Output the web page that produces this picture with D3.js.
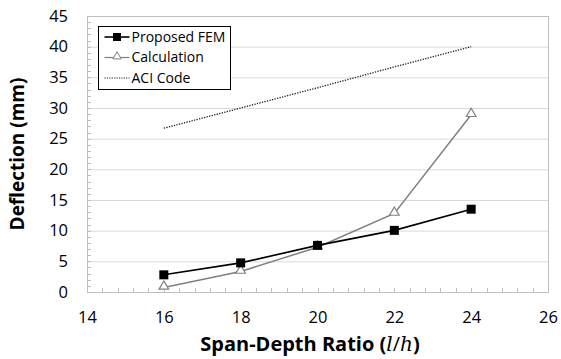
<!DOCTYPE html>
<html>
<head>
<meta charset="utf-8">
<script src="https://cdn.jsdelivr.net/npm/d3@7"></script>
<style>
  body { margin: 0; background: #fff; }
  svg { display: block; font-family: "Open Sans", "Noto Sans", sans-serif; }
</style>
</head>
<body>
<svg></svg>
<script>
// data
var ratios = [16, 18, 20, 22, 24];
var femValues = [2.8, 4.75, 7.6, 10.05, 13.5];
var calcValues = [0.75, 3.35, 7.3, 12.8, 28.9];
var aciValues = [26.7, 30.0, 33.3, 36.7, 40.0];
var xTicks = [14, 16, 18, 20, 22, 24, 26];
var yTicks = [0, 5, 10, 15, 20, 25, 30, 35, 40, 45];
var seriesNames = ['Proposed FEM', 'Calculation', 'ACI Code'];

var canvasWidth = 561;
var canvasHeight = 359;
var margin = { top: 16, right: 13, bottom: 67, left: 87 };
var width = canvasWidth - margin.left - margin.right;
var height = canvasHeight - margin.top - margin.bottom;

var svg = d3.select('svg')
    .attr('width', canvasWidth)
    .attr('height', canvasHeight);

var g = svg.append('g')
    .attr('transform', 'translate(' + margin.left + ',' + margin.top + ')');

var xScale = d3.scaleLinear().domain([14, 26]).range([0, width]);
var yScale = d3.scaleLinear().domain([0, 45]).range([height, 0]);

// gridlines
g.selectAll('.grid')
    .data(yTicks)
    .enter()
    .append('line')
    .attr('x1', 0)
    .attr('x2', width)
    .attr('y1', function(d){ return yScale(d) + 0.5; })
    .attr('y2', function(d){ return yScale(d) + 0.5; })
    .attr('stroke', '#d9d9d9')
    .attr('stroke-width', 1);

// frame
g.append('rect')
    .attr('x', 0.5)
    .attr('y', 0.5)
    .attr('width', width)
    .attr('height', height)
    .attr('fill', 'none')
    .attr('stroke', '#bfbfbf')
    .attr('stroke-width', 1);

// minor ticks
var xMinor = d3.range(14, 26.001, 0.4);
g.selectAll('.xminor')
    .data(xMinor)
    .enter()
    .append('line')
    .attr('x1', function(d){ return Math.round(xScale(d)) + 0.5; })
    .attr('x2', function(d){ return Math.round(xScale(d)) + 0.5; })
    .attr('y1', height)
    .attr('y2', height - 4)
    .attr('stroke', '#bfbfbf');

var yMinor = d3.range(0, 45.001, 1);
g.selectAll('.yminor')
    .data(yMinor)
    .enter()
    .append('line')
    .attr('x1', 0)
    .attr('x2', 4)
    .attr('y1', function(d){ return Math.round(yScale(d)) + 0.5; })
    .attr('y2', function(d){ return Math.round(yScale(d)) + 0.5; })
    .attr('stroke', '#bfbfbf');

// axes (labels only)
var xAxis = g.append('g')
    .attr('transform', 'translate(0,' + height + ')')
    .call(d3.axisBottom(xScale).tickValues(xTicks).tickSize(0).tickPadding(19));
var yAxis = g.append('g')
    .call(d3.axisLeft(yScale).tickValues(yTicks).tickSize(0).tickPadding(19));
[xAxis, yAxis].forEach(function(a){
    a.select('.domain').remove();
    a.selectAll('text')
        .attr('font-family', '"Open Sans", "Noto Sans", sans-serif')
        .attr('font-size', '16.5px')
        .attr('fill', '#000');
});
xAxis.selectAll('text').attr('dy', '0.71em');

// lines
function makeLine(vals) {
    return d3.line()
        .x(function(d, i){ return xScale(ratios[i]); })
        .y(function(d){ return yScale(d); })(vals);
}

g.append('path')
    .attr('d', makeLine(aciValues))
    .attr('fill', 'none')
    .attr('stroke', '#222')
    .attr('stroke-width', 1.3)
    .attr('stroke-dasharray', '1.3,1.3');

g.append('path')
    .attr('d', makeLine(calcValues))
    .attr('fill', 'none')
    .attr('stroke', '#808080')
    .attr('stroke-width', 1.5);

g.append('path')
    .attr('d', makeLine(femValues))
    .attr('fill', 'none')
    .attr('stroke', '#000')
    .attr('stroke-width', 1.6);

var tri = d3.symbol().type(d3.symbolTriangle).size(40);

g.selectAll('.calcPt')
    .data(calcValues)
    .enter()
    .append('path')
    .attr('d', tri)
    .attr('transform', function(d, i){ return 'translate(' + xScale(ratios[i]) + ',' + (yScale(d) - 1) + ')'; })
    .attr('fill', '#fff')
    .attr('stroke', '#808080')
    .attr('stroke-width', 1.2);

g.selectAll('.femPt')
    .data(femValues)
    .enter()
    .append('rect')
    .attr('x', function(d, i){ return xScale(ratios[i]) - 4.5; })
    .attr('y', function(d){ return yScale(d) - 4.5; })
    .attr('width', 9)
    .attr('height', 9)
    .attr('fill', '#000');

// legend
var legend = svg.append('g').attr('transform', 'translate(98.5,26.5)');
var legendBox = legend.append('rect')
    .attr('width', 120)
    .attr('height', 63)
    .attr('fill', '#fff')
    .attr('stroke', '#000')
    .attr('stroke-width', 1);

var rowY = [10.5, 31, 51.5];
legend.append('line').attr('x1', 6).attr('x2', 31).attr('y1', rowY[0]).attr('y2', rowY[0])
    .attr('stroke', '#000').attr('stroke-width', 1.6);
legend.append('rect').attr('x', 14.5).attr('y', rowY[0] - 4).attr('width', 8).attr('height', 8).attr('fill', '#000');
legend.append('line').attr('x1', 6).attr('x2', 31).attr('y1', rowY[1]).attr('y2', rowY[1])
    .attr('stroke', '#808080').attr('stroke-width', 1.2);
legend.append('path').attr('d', d3.symbol().type(d3.symbolTriangle).size(30))
    .attr('transform', 'translate(18.5,' + (rowY[1] - 1) + ')')
    .attr('fill', '#fff').attr('stroke', '#808080').attr('stroke-width', 1);
legend.append('line').attr('x1', 6).attr('x2', 31).attr('y1', rowY[2]).attr('y2', rowY[2])
    .attr('stroke', '#222').attr('stroke-width', 1.2).attr('stroke-dasharray', '1.2,1.2');

var ltexts = legend.selectAll('.ltext')
    .data(seriesNames)
    .enter()
    .append('text')
    .attr('x', 33)
    .attr('y', function(d, i){ return rowY[i]; })
    .attr('dy', '0.35em')
    .attr('font-size', '14px')
    .attr('fill', '#000')
    .text(function(d){ return d; });

// widen legend box to fit text
var maxW = 0;
ltexts.each(function(){ maxW = Math.max(maxW, this.getComputedTextLength()); });
legendBox.attr('width', Math.max(120, Math.ceil(33 + maxW + 5)));

// axis titles
var xTitle = svg.append('text')
    .attr('x', 310)
    .attr('y', 351)
    .attr('text-anchor', 'middle')
    .attr('font-size', '20px')
    .attr('font-weight', 'bold')
    .attr('fill', '#000');
xTitle.append('tspan').text('Span-Depth Ratio (');
xTitle.append('tspan').attr('font-family', '"DejaVu Serif", serif').attr('font-style', 'italic').attr('font-weight', 'normal').text('l');
xTitle.append('tspan').attr('font-weight', 'normal').text('/');
xTitle.append('tspan').attr('font-family', '"DejaVu Serif", serif').attr('font-style', 'italic').attr('font-weight', 'normal').text('h');
xTitle.append('tspan').text(')');

svg.append('text')
    .attr('transform', 'translate(24,' + (margin.top + height / 2) + ') rotate(-90)')
    .attr('text-anchor', 'middle')
    .attr('font-size', '19px')
    .attr('font-weight', 'bold')
    .attr('fill', '#000')
    .text('Deflection (mm)');
</script>
</body>
</html>
